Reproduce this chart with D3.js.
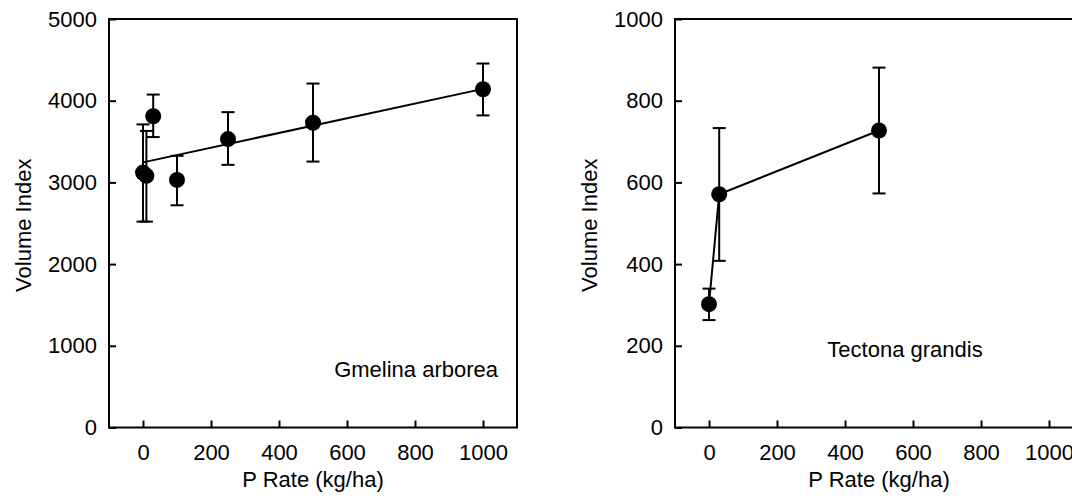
<!DOCTYPE html>
<html>
<head>
<meta charset="utf-8">
<script src="https://d3js.org/d3.v7.min.js"></script>
<style>
  body { margin: 0; background: #fff; }
  svg { display: block; font-family: "Liberation Sans", Arial, sans-serif; }
  .tick text { font-size: 22px; fill: #000; }
</style>
</head>
<body>
<svg width="1072" height="501"></svg>
<script>
// values
const xTicks = [0, 200, 400, 600, 800, 1000];

const gmelinaRate   = [0, 10, 30, 100, 250, 500, 1000];
const gmelinaVolume = [3120, 3080, 3810, 3030, 3530, 3730, 4140];
const gmelinaLow    = [2520, 2520, 3555, 2720, 3215, 3255, 3820];
const gmelinaHigh   = [3710, 3630, 4075, 3325, 3860, 4210, 4455];
const gmelinaFitRate   = [0, 1000];
const gmelinaFitVolume = [3245, 4145];
const gmelinaYTicks = [0, 1000, 2000, 3000, 4000, 5000];

const tectonaRate   = [0, 30, 500];
const tectonaVolume = [302, 571, 727];
const tectonaLow    = [263, 408, 573];
const tectonaHigh   = [340, 733, 881];
const tectonaYTicks = [0, 200, 400, 600, 800, 1000];

var svg = d3.select("svg");
var top_ = 19, bottom = 427.5, plotW = 408;

function panel(left, ymax, yTicks, rate, vol, low, high, lineRate, lineVol, label, labelX, labelY, labelAnchor) {
    var x = d3.scaleLinear().domain([-100, 1100]).range([left, left + plotW]);
    var y = d3.scaleLinear().domain([0, ymax]).range([bottom, top_]);
    var g = svg.append("g");

    g.append("g")
        .attr("transform", "translate(" + left + ",0)")
        .call(d3.axisLeft(y).tickValues(yTicks).tickFormat(d3.format("d")).tickSize(-7).tickSizeOuter(0).tickPadding(12))
        .call(a => a.select(".domain").remove())
        .selectAll("line").attr("stroke-width", 2);

    g.append("g")
        .attr("transform", "translate(0," + bottom + ")")
        .call(d3.axisBottom(x).tickValues(xTicks).tickFormat(d3.format("d")).tickSize(-7).tickSizeOuter(0).tickPadding(17))
        .call(a => a.select(".domain").remove())
        .selectAll("line").attr("stroke-width", 2);

    g.append("rect")
        .attr("x", left).attr("y", top_)
        .attr("width", plotW).attr("height", bottom - top_)
        .attr("fill", "none").attr("stroke", "#000").attr("stroke-width", 2);

    // error bars
    var eb = g.append("g").attr("stroke", "#000").attr("stroke-width", 2);
    rate.forEach(function(r, i) {
        var cx = x(r);
        eb.append("line").attr("x1", cx).attr("x2", cx).attr("y1", y(low[i])).attr("y2", y(high[i]));
        eb.append("line").attr("x1", cx - 6.5).attr("x2", cx + 6.5).attr("y1", y(low[i])).attr("y2", y(low[i]));
        eb.append("line").attr("x1", cx - 6.5).attr("x2", cx + 6.5).attr("y1", y(high[i])).attr("y2", y(high[i]));
    });

    var line = d3.line().x(d => x(d[0])).y(d => y(d[1]));
    g.append("path")
        .attr("d", line(d3.zip(lineRate, lineVol)))
        .attr("fill", "none").attr("stroke", "#000").attr("stroke-width", 2);

    g.selectAll("circle.pt")
        .data(d3.zip(rate, vol))
        .enter()
        .append("circle")
        .attr("cx", d => x(d[0]))
        .attr("cy", d => y(d[1]))
        .attr("r", 8)
        .attr("fill", "#000");

    g.append("text")
        .attr("x", labelX).attr("y", labelY)
        .attr("text-anchor", labelAnchor)
        .style("font-size", "22px")
        .text(label);

    g.append("text")
        .attr("x", left + plotW / 2).attr("y", 487)
        .attr("text-anchor", "middle")
        .style("font-size", "22px")
        .text("P Rate (kg/ha)");

    g.append("text")
        .attr("transform", "translate(" + (left - 78) + "," + ((top_ + bottom) / 2 + 2) + ") rotate(-90)")
        .attr("text-anchor", "middle")
        .style("font-size", "22px")
        .text("Volume Index");
}

panel(109, 5000, gmelinaYTicks, gmelinaRate, gmelinaVolume, gmelinaLow, gmelinaHigh,
      gmelinaFitRate, gmelinaFitVolume, "Gmelina arborea", 498, 377, "end");
panel(675, 1000, tectonaYTicks, tectonaRate, tectonaVolume, tectonaLow, tectonaHigh,
      tectonaRate, tectonaVolume, "Tectona grandis", 905, 357, "middle");
</script>
</body>
</html>
